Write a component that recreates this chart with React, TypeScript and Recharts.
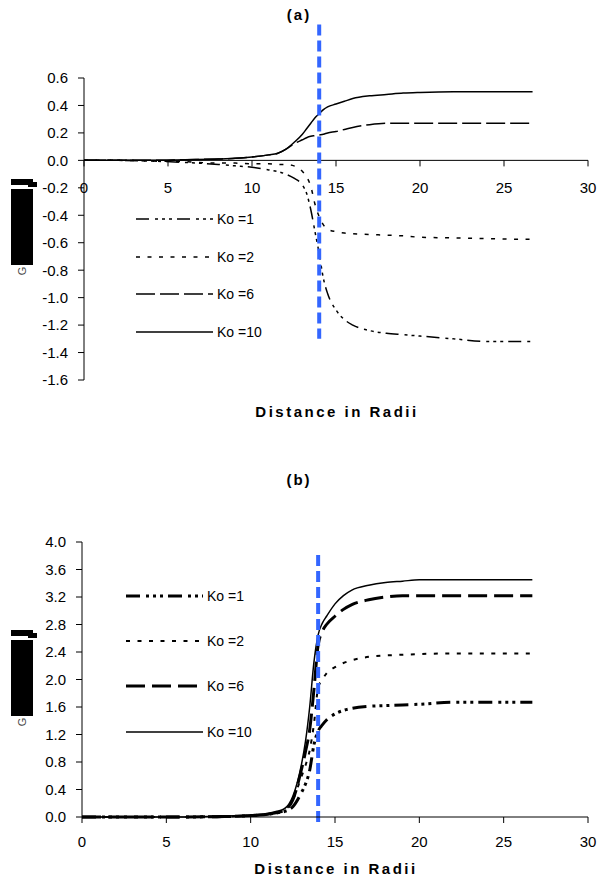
import { LineChart, Line, XAxis, YAxis, ReferenceLine, Legend } from "recharts";

const FONT = '"Liberation Sans", Arial, sans-serif';

const xValues = [0, 2, 4, 6, 8, 9, 10, 11, 11.5, 12, 12.5, 13, 13.25, 13.5, 13.75, 14, 14.25, 14.5, 15, 15.5, 16, 17, 18, 19, 20, 22, 24, 26, 26.7];

// panel (a)
const aKo1 = [0, 0, -0.005, -0.015, -0.03, -0.04, -0.05, -0.07, -0.08, -0.1, -0.13, -0.18, -0.24, -0.36, -0.52, -0.68, -0.86, -0.97, -1.09, -1.16, -1.2, -1.24, -1.26, -1.27, -1.28, -1.3, -1.32, -1.32, -1.32];
const aKo2 = [0, 0, -0.005, -0.01, -0.02, -0.02, -0.025, -0.025, -0.03, -0.03, -0.04, -0.08, -0.12, -0.19, -0.32, -0.41, -0.47, -0.5, -0.52, -0.53, -0.535, -0.54, -0.545, -0.55, -0.56, -0.565, -0.57, -0.575, -0.575];
const aKo6 = [0, 0, 0, 0.005, 0.01, 0.015, 0.025, 0.04, 0.05, 0.08, 0.12, 0.15, 0.165, 0.175, 0.18, 0.185, 0.19, 0.2, 0.21, 0.225, 0.24, 0.26, 0.27, 0.27, 0.27, 0.27, 0.27, 0.27, 0.27];
const aKo10 = [0, 0, 0, 0.005, 0.01, 0.015, 0.025, 0.04, 0.05, 0.08, 0.13, 0.19, 0.23, 0.27, 0.31, 0.34, 0.37, 0.39, 0.41, 0.43, 0.45, 0.47, 0.48, 0.49, 0.495, 0.5, 0.5, 0.5, 0.5];

// panel (b)
const bKo1 = [0, 0, 0, 0, 0.005, 0.01, 0.02, 0.04, 0.06, 0.08, 0.15, 0.35, 0.48, 0.68, 1.05, 1.25, 1.34, 1.41, 1.5, 1.55, 1.58, 1.61, 1.62, 1.63, 1.64, 1.67, 1.67, 1.67, 1.67];
const bKo2 = [0, 0, 0, 0, 0.005, 0.01, 0.02, 0.04, 0.06, 0.1, 0.25, 0.58, 0.75, 0.97, 1.35, 1.88, 2.0, 2.09, 2.18, 2.24, 2.28, 2.33, 2.35, 2.36, 2.37, 2.38, 2.38, 2.38, 2.38];
const bKo6 = [0, 0, 0, 0, 0.005, 0.01, 0.02, 0.04, 0.06, 0.1, 0.25, 0.68, 0.95, 1.27, 1.85, 2.5, 2.7, 2.8, 2.92, 3.02, 3.09, 3.16, 3.2, 3.22, 3.22, 3.22, 3.22, 3.22, 3.22];
const bKo10 = [0, 0, 0, 0, 0.01, 0.02, 0.03, 0.05, 0.08, 0.12, 0.3, 0.75, 1.1, 1.6, 2.25, 2.65, 2.82, 2.92, 3.1, 3.22, 3.3, 3.37, 3.41, 3.43, 3.45, 3.45, 3.45, 3.45, 3.45];

const seriesNames = ["Ko =1", "Ko =2", "Ko =6", "Ko =10"];
const seriesKeys = ["k1", "k2", "k6", "k10"];

const xTicks = [0, 5, 10, 15, 20, 25, 30];
const aYTicks = [0.6, 0.4, 0.2, 0, -0.2, -0.4, -0.6, -0.8, -1.0, -1.2, -1.4, -1.6];
const bYTicks = [0, 0.4, 0.8, 1.2, 1.6, 2.0, 2.4, 2.8, 3.2, 3.6, 4.0];

const markerX = 14;
const aMarker = [0.99, -1.3];
const bMarker = [3.81, -0.145];

const dataA = xValues.map((x, i) => ({ x, k1: aKo1[i], k2: aKo2[i], k6: aKo6[i], k10: aKo10[i] }));
const dataB = xValues.map((x, i) => ({ x, k1: bKo1[i], k2: bKo2[i], k6: bKo6[i], k10: bKo10[i] }));

const stylesA = [
  { dash: "13 6 3 4 3 4 3 5", width: 1.5 },
  { dash: "4 7.5", width: 1.5 },
  { dash: "19 5", width: 1.5 },
  { dash: undefined, width: 1.5 },
];
const stylesB = [
  { dash: "14 6 3 4 3 4 3 5", width: 3 },
  { dash: "4 7.5", width: 2 },
  { dash: "19 7", width: 3 },
  { dash: undefined, width: 1.5 },
];

function KoLegend({ styles, rowHeight }: any) {
  return (
    <div>
      {seriesNames.map((name, i) => (
        <div key={name} style={{ display: "flex", alignItems: "center", height: rowHeight }}>
          <svg width={80} height={8}>
            <line x1={0} y1={4} x2={77} y2={4} stroke="#000" strokeWidth={styles[i].width} strokeDasharray={styles[i].dash} />
          </svg>
          <span style={{ fontFamily: FONT, fontSize: 14, marginLeft: 1, color: "#000" }}>{name}</span>
        </div>
      ))}
    </div>
  );
}

function BlockLabel({ top }: any) {
  return (
    <g>
      <rect x={11} y={top} width={22} height={6} fill="#000" />
      <rect x={28} y={top + 3} width={9} height={5} fill="#000" />
      <rect x={11} y={top + 10} width={22} height={76} fill="#000" />
      <text transform={`translate(22 ${top + 92}) rotate(-90)`} fontSize={11} fontFamily={FONT} textAnchor="middle" dominantBaseline="central" fill="#444">G</text>
    </g>
  );
}

function AxisTitle(props: any) {
  const { viewBox, offset } = props;
  return (
    <text
      x={viewBox.x + viewBox.width / 2 + 1}
      y={viewBox.y + viewBox.height - offset}
      textAnchor="middle"
      style={{ fontFamily: FONT, fontWeight: 700, fontSize: 15, letterSpacing: 2.5, fill: "#000" }}
    >
      Distance in Radii
    </text>
  );
}

const titleStyle: any = {
  position: "absolute",
  width: 598,
  textAlign: "center",
  fontFamily: FONT,
  fontWeight: 700,
  fontSize: 15,
  letterSpacing: 2,
  color: "#000",
};

const yTick = { fontSize: 15, fill: "#000", fontFamily: FONT };

export default function App() {
  return (
    <div style={{ position: "absolute", left: 0, top: 0, width: 598, height: 890, background: "#fff" }}>
      <div style={{ ...titleStyle, top: 6 }}>(a)</div>
      <div style={{ position: "absolute", left: 0, top: 0 }}>
        <LineChart width={598} height={430} data={dataA} margin={{ top: 78, right: 10, left: 0, bottom: 0 }}>
          <XAxis
            dataKey="x"
            type="number"
            domain={[0, 30]}
            ticks={xTicks}
            tick={false}
            axisLine={false}
            tickLine={false}
            height={50}
            label={{ position: "insideBottom", offset: 13, content: (p: any) => <AxisTitle {...p} /> }}
          />
          <YAxis
            type="number"
            domain={[-1.6, 0.6]}
            ticks={aYTicks}
            interval={0}
            width={84}
            tickSize={6}
            tickMargin={10}
            stroke="#000"
            tick={yTick}
            tickFormatter={(v: number) => v.toFixed(1)}
            label={{ position: "insideLeft", content: () => <BlockLabel top={179} /> }}
          />
          <ReferenceLine y={0} stroke="#000" strokeWidth={1} />
          {xTicks.map((t) => (
            <ReferenceLine
              key={t}
              segment={[{ x: t, y: 0 }, { x: t, y: -0.044 }]}
              stroke="#000"
              ifOverflow="visible"
              label={{ value: String(t), position: "bottom", offset: 16, fontSize: 15, fill: "#000", fontFamily: FONT }}
            />
          ))}
          {seriesKeys.map((k, i) => (
            <Line
              key={k}
              dataKey={k}
              name={seriesNames[i]}
              type="monotone"
              stroke="#000"
              strokeWidth={stylesA[i].width}
              strokeDasharray={stylesA[i].dash}
              dot={false}
              isAnimationActive={false}
            />
          ))}
          <ReferenceLine
            segment={[{ x: markerX, y: aMarker[0] }, { x: markerX, y: aMarker[1] }]}
            stroke="#3366ff"
            strokeWidth={4}
            strokeDasharray="11 5"
            ifOverflow="visible"
          />
          <Legend
            layout="vertical"
            align="center"
            verticalAlign="middle"
            wrapperStyle={{ left: 136, top: 200, width: 140 }}
            content={() => <KoLegend styles={stylesA} rowHeight={37.7} />}
          />
        </LineChart>
      </div>

      <div style={{ ...titleStyle, top: 471 }}>(b)</div>
      <div style={{ position: "absolute", left: 0, top: 430 }}>
        <LineChart width={598} height={460} data={dataB} margin={{ top: 112, right: 10, left: 0, bottom: 0 }}>
          <XAxis
            dataKey="x"
            type="number"
            domain={[0, 30]}
            ticks={xTicks}
            interval={0}
            height={73}
            tickSize={6}
            tickMargin={13}
            stroke="#000"
            tick={yTick}
            label={{ position: "insideBottom", offset: 16, content: (p: any) => <AxisTitle {...p} /> }}
          />
          <YAxis
            type="number"
            domain={[0, 4]}
            ticks={bYTicks}
            interval={0}
            width={82}
            tickSize={6}
            tickMargin={10}
            stroke="#000"
            tick={yTick}
            tickFormatter={(v: number) => v.toFixed(1)}
            label={{ position: "insideLeft", content: () => <BlockLabel top={200} /> }}
          />
          {seriesKeys.map((k, i) => (
            <Line
              key={k}
              dataKey={k}
              name={seriesNames[i]}
              type="monotone"
              stroke="#000"
              strokeWidth={stylesB[i].width}
              strokeDasharray={stylesB[i].dash}
              dot={false}
              isAnimationActive={false}
            />
          ))}
          <ReferenceLine
            segment={[{ x: markerX, y: bMarker[0] }, { x: markerX, y: bMarker[1] }]}
            stroke="#3366ff"
            strokeWidth={4}
            strokeDasharray="11 5"
            ifOverflow="visible"
          />
          <Legend
            layout="vertical"
            align="center"
            verticalAlign="middle"
            wrapperStyle={{ left: 126, top: 143, width: 140 }}
            content={() => <KoLegend styles={stylesB} rowHeight={45.3} />}
          />
        </LineChart>
      </div>
    </div>
  );
}
